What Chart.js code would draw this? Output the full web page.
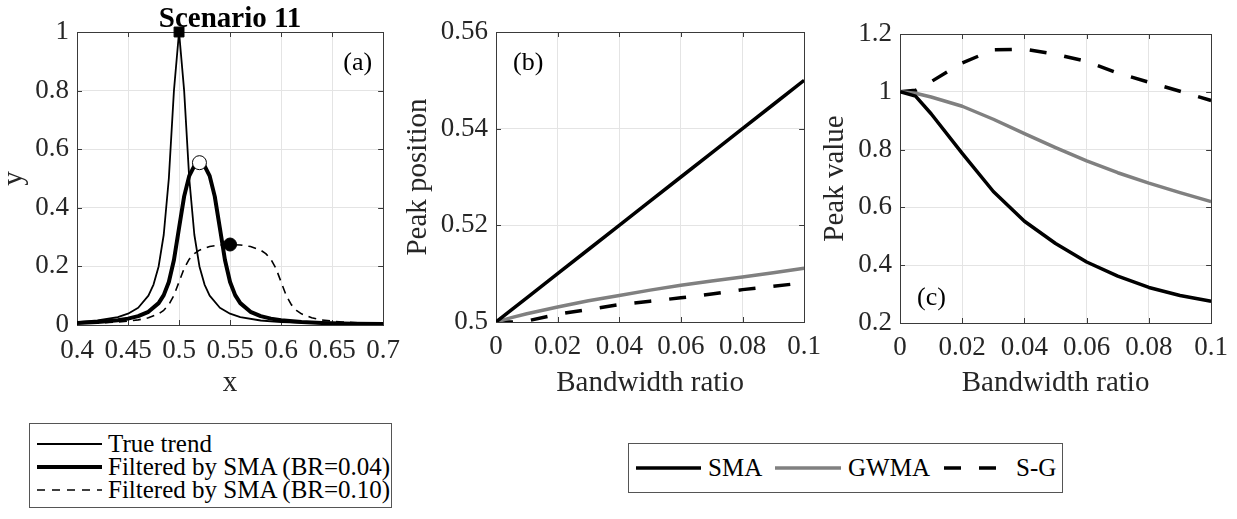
<!DOCTYPE html>
<html>
<head>
<meta charset="utf-8">
<script src="https://cdn.jsdelivr.net/npm/chart.js@4.4.1/dist/chart.umd.min.js"></script>
<style>
  body { margin: 0; background: #fff; width: 1237px; height: 519px; position: relative; overflow: hidden;
         font-family: 'Liberation Serif', 'Times New Roman', serif; }
  canvas { position: absolute; top: 0; }
  .legend { position: absolute; border: 1px solid #555; background: #fff; box-sizing: border-box; }
  .legend svg { position: absolute; left: 0; top: 0; }
  .legend span { position: absolute; font-size: 25px; line-height: 26px; color: #000; white-space: nowrap; }
</style>
</head>
<body>
<canvas id="chartA" width="410" height="410" style="left:0px"></canvas>
<canvas id="chartB" width="430" height="410" style="left:400px"></canvas>
<canvas id="chartC" width="417" height="410" style="left:820px"></canvas>

<div class="legend" style="left:29px;top:423px;width:363px;height:85px">
  <svg width="363" height="85">
    <line x1="7" y1="20" x2="72" y2="20" stroke="#000" stroke-width="1.8"/>
    <line x1="7" y1="43" x2="72" y2="43" stroke="#000" stroke-width="4"/>
    <line x1="7" y1="66" x2="72" y2="66" stroke="#000" stroke-width="1.6" stroke-dasharray="8 7"/>
  </svg>
  <span style="left:78px;top:7px">True trend</span>
  <span style="left:78px;top:30px">Filtered by SMA (BR=0.04)</span>
  <span style="left:78px;top:53px">Filtered by SMA (BR=0.10)</span>
</div>

<div class="legend" style="left:628px;top:443px;width:435px;height:50px">
  <svg width="435" height="50">
    <line x1="7" y1="24" x2="72" y2="24" stroke="#000" stroke-width="3.5"/>
    <line x1="146" y1="24" x2="212" y2="24" stroke="#808080" stroke-width="3.5"/>
    <line x1="315" y1="24" x2="381" y2="24" stroke="#000" stroke-width="3.5" stroke-dasharray="17 18"/>
  </svg>
  <span style="left:79px;top:11px">SMA</span>
  <span style="left:219px;top:11px">GWMA</span>
  <span style="left:387px;top:11px">S-G</span>
</div>

<script>
// (a) true trend and filtered curves
const trueX = [0.40, 0.42, 0.44, 0.45, 0.46, 0.47, 0.475, 0.48, 0.485, 0.49, 0.495, 0.50,
               0.505, 0.51, 0.515, 0.52, 0.525, 0.53, 0.54, 0.55, 0.56, 0.58, 0.60, 0.65, 0.70];
const trueY = [0.0099, 0.0154, 0.027, 0.0385, 0.0588, 0.1, 0.138, 0.2, 0.308, 0.5, 0.8, 1.0,
               0.8, 0.5, 0.308, 0.2, 0.138, 0.1, 0.0588, 0.0385, 0.027, 0.0154, 0.0099, 0.0044, 0.0025];

const sma04X = [0.40, 0.42, 0.44, 0.45, 0.46, 0.47, 0.48, 0.485, 0.49, 0.495, 0.50, 0.505, 0.51, 0.515,
                0.52, 0.525, 0.53, 0.535, 0.54, 0.545, 0.55, 0.555, 0.56, 0.57, 0.58, 0.59, 0.60,
                0.62, 0.64, 0.67, 0.70];
const sma04Y = [0.0071, 0.0103, 0.0164, 0.0217, 0.0302, 0.045, 0.0746, 0.102, 0.147, 0.222, 0.331, 0.439, 0.509, 0.543,
                0.554, 0.543, 0.509, 0.439, 0.331, 0.222, 0.147, 0.102, 0.0746, 0.045, 0.0302, 0.0217, 0.0164,
                0.0103, 0.0071, 0.0045, 0.0031];

const sma10X = [0.40, 0.42, 0.44, 0.45, 0.46, 0.47, 0.48, 0.485, 0.49, 0.495, 0.50, 0.505, 0.51, 0.515,
                0.52, 0.53, 0.54, 0.55, 0.56, 0.57, 0.58, 0.585, 0.59, 0.595, 0.60, 0.605, 0.61, 0.615,
                0.62, 0.63, 0.64, 0.65, 0.66, 0.68, 0.70];
const sma10Y = [0.005, 0.0069, 0.0103, 0.0131, 0.0174, 0.0245, 0.0381, 0.0501, 0.0695, 0.101, 0.147, 0.193, 0.2246, 0.2437,
                0.2554, 0.2678, 0.2731, 0.2747, 0.2731, 0.2678, 0.2554, 0.2437, 0.2246, 0.193, 0.147, 0.101, 0.0695, 0.0501,
                0.0381, 0.0245, 0.0174, 0.0131, 0.0103, 0.0069, 0.005];

// peak markers: true, BR=0.04, BR=0.10
const peakX = [0.5, 0.52, 0.55];
const peakY = [1.0, 0.554, 0.2747];

// (b) and (c) vs bandwidth ratio
const ratio = [0, 0.005, 0.01, 0.02, 0.03, 0.04, 0.05, 0.06, 0.07, 0.08, 0.09, 0.1];
const posSMA  = [0.5, 0.5025, 0.505, 0.51, 0.515, 0.52, 0.525, 0.53, 0.535, 0.54, 0.545, 0.55];
const posGWMA = [0.5, 0.5009, 0.5017, 0.5031, 0.5044, 0.5055, 0.5066, 0.5076, 0.5085, 0.5093, 0.5102, 0.5111];
const posSG   = [0.5, 0.5, 0.5002, 0.5016, 0.5026, 0.5036, 0.5043, 0.505, 0.5058, 0.5067, 0.5074, 0.5081];
const valSMA  = [1.0, 0.985, 0.924, 0.787, 0.655, 0.552, 0.475, 0.411, 0.362, 0.323, 0.295, 0.275];
const valGWMA = [1.0, 0.995, 0.982, 0.95, 0.905, 0.855, 0.807, 0.761, 0.72, 0.684, 0.651, 0.62];
const valSG   = [1.0, 1.005, 1.035, 1.1, 1.145, 1.148, 1.13, 1.105, 1.065, 1.033, 1.002, 0.97];

// ticks
const aXTicks = [0.4, 0.45, 0.5, 0.55, 0.6, 0.65, 0.7];
const aXLabels = ['0.4', '0.45', '0.5', '0.55', '0.6', '0.65', '0.7'];
const aYTicks = [0, 0.2, 0.4, 0.6, 0.8, 1];
const aYLabels = ['0', '0.2', '0.4', '0.6', '0.8', '1'];
const brTicks = [0, 0.02, 0.04, 0.06, 0.08, 0.1];
const brLabels = ['0', '0.02', '0.04', '0.06', '0.08', '0.1'];
const bYTicks = [0.5, 0.52, 0.54, 0.56];
const bYLabels = ['0.5', '0.52', '0.54', '0.56'];
const cYTicks = [0.2, 0.4, 0.6, 0.8, 1, 1.2];
const cYLabels = ['0.2', '0.4', '0.6', '0.8', '1', '1.2'];

const SERIF = "'Liberation Serif', 'Times New Roman', serif";
Chart.defaults.font.family = SERIF;
Chart.defaults.color = '#262626';

const zip = (xs, ys) => xs.map((x, i) => ({ x, y: ys[i] }));

// box, inward tick marks, panel tag and title
const framePlugin = {
  id: 'frame',
  beforeDatasetsDraw(chart) {
    const { ctx, chartArea: a, scales } = chart;
    ctx.save();
    ctx.strokeStyle = '#3a3a3a';
    ctx.lineWidth = 1;
    ctx.beginPath();
    scales.x.ticks.forEach(t => {
      const p = Math.round(scales.x.getPixelForValue(t.value)) + 0.5;
      ctx.moveTo(p, a.bottom); ctx.lineTo(p, a.bottom - 5);
      ctx.moveTo(p, a.top); ctx.lineTo(p, a.top + 5);
    });
    scales.y.ticks.forEach(t => {
      const p = Math.round(scales.y.getPixelForValue(t.value)) + 0.5;
      ctx.moveTo(a.left, p); ctx.lineTo(a.left + 5, p);
      ctx.moveTo(a.right, p); ctx.lineTo(a.right - 5, p);
    });
    ctx.stroke();
    ctx.strokeRect(Math.round(a.left) + 0.5, Math.round(a.top) + 0.5, Math.round(a.width), Math.round(a.height));
    ctx.restore();
  },
  afterDraw(chart, args, opts) {
    const { ctx, chartArea: a } = chart;
    ctx.save();
    ctx.fillStyle = '#000';
    if (opts.tag) {
      ctx.font = '26px ' + SERIF;
      ctx.textBaseline = 'middle';
      ctx.textAlign = opts.tagRight ? 'right' : 'left';
      const x = opts.tagRight ? a.right - opts.tagDx : a.left + opts.tagDx;
      const y = opts.tagBottom ? a.bottom - opts.tagDy : a.top + opts.tagDy;
      ctx.fillText(opts.tag, x, y);
    }
    if (opts.title) {
      ctx.font = 'bold 29px ' + SERIF;
      ctx.textAlign = 'center';
      ctx.textBaseline = 'alphabetic';
      ctx.fillText(opts.title, (a.left + a.right) / 2, a.top - 5);
    }
    ctx.restore();
  }
};

function axis(min, max, ticks, labels, title, titlePad, size, tickPad) {
  return {
    type: 'linear', min, max,
    afterBuildTicks: s => { s.ticks = ticks.map(v => ({ value: v })); },
    afterFit: s => { if (s.isHorizontal()) s.height = size; else s.width = size; },
    ticks: { callback: (v, i) => labels[i], padding: tickPad, font: { family: SERIF, size: 27 }, color: '#262626',
             autoSkip: false, maxRotation: 0 },
    grid: { color: '#e4e4e4', drawTicks: false },
    border: { display: false },
    title: { display: true, text: title, font: { family: SERIF, size: 29, lineHeight: 1 }, padding: titlePad, color: '#262626' }
  };
}

function line(xs, ys, color, width, dash) {
  return { data: zip(xs, ys), borderColor: color, borderWidth: width, borderDash: dash || [],
           pointRadius: 0, tension: 0, fill: false, borderJoinStyle: 'round' };
}

const common = {
  responsive: false, animation: false, devicePixelRatio: 1,
  events: []
};

new Chart(document.getElementById('chartA'), {
  type: 'line',
  data: {
    datasets: [
      { data: [{ x: peakX[0], y: peakY[0] }], showLine: false, pointStyle: 'rect', pointRadius: 7,
        backgroundColor: '#000', borderColor: '#000', borderWidth: 1, clip: false },
      { data: [{ x: peakX[1], y: peakY[1] }], showLine: false, pointStyle: 'circle', pointRadius: 7,
        backgroundColor: '#fff', borderColor: '#000', borderWidth: 1, clip: false },
      { data: [{ x: peakX[2], y: peakY[2] }], showLine: false, pointStyle: 'circle', pointRadius: 6.5,
        backgroundColor: '#000', borderColor: '#000', borderWidth: 1, clip: false },
      line(trueX, trueY, '#000', 1.8),
      line(sma04X, sma04Y, '#000', 4),
      line(sma10X, sma10Y, '#000', 1.6, [8, 6])
    ]
  },
  options: {
    ...common,
    layout: { padding: { top: 32, right: 18, bottom: 0, left: 0 } },
    scales: {
      x: axis(0.4, 0.7, aXTicks, aXLabels, 'x', { top: 0, bottom: 12.5 }, 85, 10),
      y: axis(0, 1, aYTicks, aYLabels, 'y', { top: 0, bottom: 0 }, 77, 8)
    },
    plugins: {
      legend: { display: false }, tooltip: { enabled: false },
      frame: { tag: '(a)', tagRight: true, tagDx: 11, tagDy: 31, title: 'Scenario 11' }
    }
  },
  plugins: [framePlugin]
});

new Chart(document.getElementById('chartB'), {
  type: 'line',
  data: {
    datasets: [
      line(ratio, posSMA, '#000', 3.5),
      line(ratio, posGWMA, '#808080', 3.5),
      line(ratio, posSG, '#000', 3.5, [17, 18])
    ]
  },
  options: {
    ...common,
    layout: { padding: { top: 32, right: 18, bottom: 0, left: 0 } },
    scales: {
      x: axis(0, 0.1, brTicks, brLabels, 'Bandwidth ratio', { top: 0, bottom: 12.5 }, 88, 9),
      y: axis(0.5, 0.56, bYTicks, bYLabels, 'Peak position', { top: 3.5, bottom: 0 }, 96, 8)
    },
    plugins: {
      legend: { display: false }, tooltip: { enabled: false },
      frame: { tag: '(b)', tagDx: 17, tagDy: 31 }
    }
  },
  plugins: [framePlugin]
});

new Chart(document.getElementById('chartC'), {
  type: 'line',
  data: {
    datasets: [
      line(ratio, valSMA, '#000', 3.5),
      line(ratio, valGWMA, '#808080', 3.5),
      line(ratio, valSG, '#000', 3.5, [17, 18])
    ]
  },
  options: {
    ...common,
    layout: { padding: { top: 34, right: 25, bottom: 0, left: 0 } },
    scales: {
      x: axis(0, 0.1, brTicks, brLabels, 'Bandwidth ratio', { top: 0, bottom: 12.5 }, 87, 9),
      y: axis(0.2, 1.2, cYTicks, cYLabels, 'Peak value', { top: 0.5, bottom: 0 }, 80, 8)
    },
    plugins: {
      legend: { display: false }, tooltip: { enabled: false },
      frame: { tag: '(c)', tagDx: 17, tagBottom: true, tagDy: 25 }
    }
  },
  plugins: [framePlugin]
});
</script>
</body>
</html>
